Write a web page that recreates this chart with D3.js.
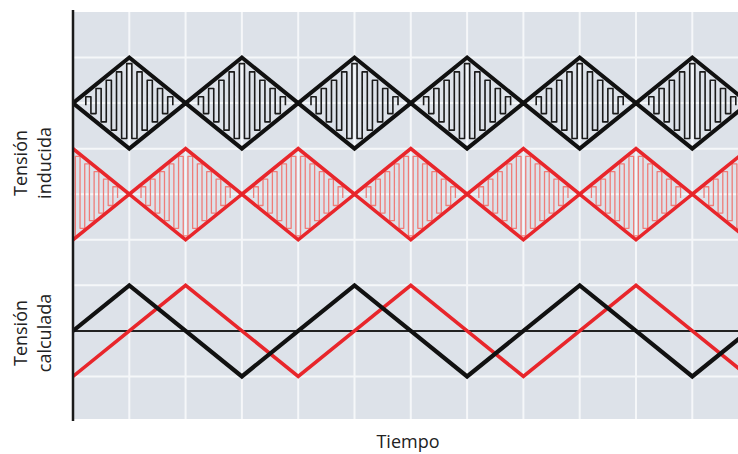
<!DOCTYPE html>
<html>
<head>
<meta charset="utf-8">
<script src="https://cdn.jsdelivr.net/npm/d3@7/dist/d3.min.js"></script>
<style>
  html, body { margin: 0; padding: 0; background: #ffffff; }
  svg { display: block; }
  text { font-family: "Open Sans", "Noto Sans", sans-serif; fill: #222; }
</style>
</head>
<body>
<svg id="chart" width="738" height="454"></svg>
<script>
// ---- data ----
const time = [0, 1, 2, 3, 4, 5, 6, 7, 8, 9, 10, 11, 12];
const inducedBlackEnvelope = [0, 1, 0, 1, 0, 1, 0, 1, 0, 1, 0, 1, 0];
const inducedRedEnvelope   = [1, 0, 1, 0, 1, 0, 1, 0, 1, 0, 1, 0, 1];
const calculatedBlack = [0, 1, 0, -1, 0, 1, 0, -1, 0, 1, 0, -1, 0];
const calculatedRed   = [-1, 0, 1, 0, -1, 0, 1, 0, -1, 0, 1, 0, -1];
const xTicks = [1, 2, 3, 4, 5, 6, 7, 8, 9, 10, 11];
const yTicks = [1, 2, 3, 4, 5, 6, 7, 8];
const labels = {
  induced: ["Tensión", "inducida"],
  calculated: ["Tensión", "calculada"],
  x: "Tiempo"
};

// ---- layout ----
const svg = d3.select("#chart");
const plot = { left: 73, right: 738, top: 12, bottom: 419 };
const x = d3.scaleLinear().domain([0, 12]).range([73, 73 + 12 * 56.3]);
const y = d3.scaleLinear().domain([0, 9]).range([12, 422]);
const rowPx = y(1) - y(0);
const bands = { inducedBlack: 2, inducedRed: 4, calculated: 7 };

svg.append("defs").append("clipPath").attr("id", "clip")
  .append("rect")
  .attr("x", plot.left).attr("y", plot.top)
  .attr("width", plot.right - plot.left).attr("height", plot.bottom - plot.top);

svg.append("rect")
  .attr("x", plot.left).attr("y", plot.top)
  .attr("width", plot.right - plot.left).attr("height", plot.bottom - plot.top)
  .attr("fill", "#dde2e9");

const g = svg.append("g").attr("clip-path", "url(#clip)");

// grid
g.selectAll("line.vg").data(xTicks).join("line")
  .attr("x1", d => x(d)).attr("x2", d => x(d))
  .attr("y1", plot.top).attr("y2", plot.bottom)
  .attr("stroke", "#f5f7f9").attr("stroke-width", 2);
g.selectAll("line.hg").data(yTicks).join("line")
  .attr("x1", plot.left).attr("x2", plot.right)
  .attr("y1", d => y(d)).attr("y2", d => y(d))
  .attr("stroke", "#f5f7f9").attr("stroke-width", 2);

// meander fill inside an envelope (a carrier drawn under the envelope)
function meander(envValues, center, step, insetPx, minPx) {
  const env = d3.scaleLinear().domain(time).range(envValues).clamp(true);
  const xs = d3.range(step / 2, 12, step);
  const h = xs.map(t => Math.max(0, env(t) * rowPx - insetPx));
  const cy = y(center);
  const conn = xs.map((t, k) => k < xs.length - 1 ? Math.min(h[k], h[k + 1]) : h[k]);
  const pts = [];
  for (let k = 0; k < xs.length; k++) {
    const prev = k > 0 ? conn[k - 1] : h[k];
    const next = conn[k];
    const ok = prev >= minPx && next >= minPx;
    if (k % 2 === 0) {
      pts.push({ t: xs[k], v: cy + prev, ok });
      pts.push({ t: xs[k], v: cy - next, ok });
    } else {
      pts.push({ t: xs[k], v: cy - prev, ok });
      pts.push({ t: xs[k], v: cy + next, ok });
    }
  }
  return d3.line().defined(d => d.ok).x(d => x(d.t)).y(d => d.v)(pts);
}

g.append("path")
  .attr("d", meander(inducedRedEnvelope, bands.inducedRed, 1 / 12, 2, 2))
  .attr("fill", "none").attr("stroke", "#ef7c78").attr("stroke-width", 1.3)
  .attr("stroke-linejoin", "round");

g.append("path")
  .attr("d", meander(inducedBlackEnvelope, bands.inducedBlack, 1 / 11, 4, 2))
  .attr("fill", "none").attr("stroke", "#1a1a1a").attr("stroke-width", 1.6)
  .attr("stroke-linejoin", "round");

// envelope lines
function envLine(values, center, sign) {
  return d3.line()
    .x((d, i) => x(time[i]))
    .y(d => y(center) - sign * d * rowPx)(values);
}
[1, -1].forEach(s => {
  g.append("path").attr("d", envLine(inducedRedEnvelope, bands.inducedRed, s))
    .attr("fill", "none").attr("stroke", "#e8262b").attr("stroke-width", 3.6)
    .attr("stroke-linejoin", "miter");
});
[1, -1].forEach(s => {
  g.append("path").attr("d", envLine(inducedBlackEnvelope, bands.inducedBlack, s))
    .attr("fill", "none").attr("stroke", "#111").attr("stroke-width", 4)
    .attr("stroke-linejoin", "miter");
});

// calculated band
g.append("line")
  .attr("x1", plot.left).attr("x2", plot.right)
  .attr("y1", y(bands.calculated)).attr("y2", y(bands.calculated))
  .attr("stroke", "#222").attr("stroke-width", 2);

const calcLine = d3.line()
  .x((d, i) => x(time[i]))
  .y(d => y(bands.calculated) - d * rowPx);
g.append("path").attr("d", calcLine(calculatedRed))
  .attr("fill", "none").attr("stroke", "#e8262b").attr("stroke-width", 3.6);
g.append("path").attr("d", calcLine(calculatedBlack))
  .attr("fill", "none").attr("stroke", "#111").attr("stroke-width", 4.2);

// axis line
svg.append("line")
  .attr("x1", 73).attr("x2", 73).attr("y1", 10).attr("y2", 421)
  .attr("stroke", "#1a1a1a").attr("stroke-width", 2.5);

// labels
function vLabel(lines, cy) {
  const t = svg.append("text")
    .attr("transform", `translate(27,${cy}) rotate(-90)`)
    .attr("text-anchor", "middle")
    .style("font-size", "18px");
  lines.forEach((l, i) => {
    t.append("tspan").attr("x", 0).attr("y", i * 24).text(l);
  });
}
vLabel(labels.induced, 163);
vLabel(labels.calculated, 333);

svg.append("text")
  .attr("x", 408).attr("y", 448)
  .attr("text-anchor", "middle")
  .style("font-size", "18px")
  .text(labels.x);
</script>
</body>
</html>
